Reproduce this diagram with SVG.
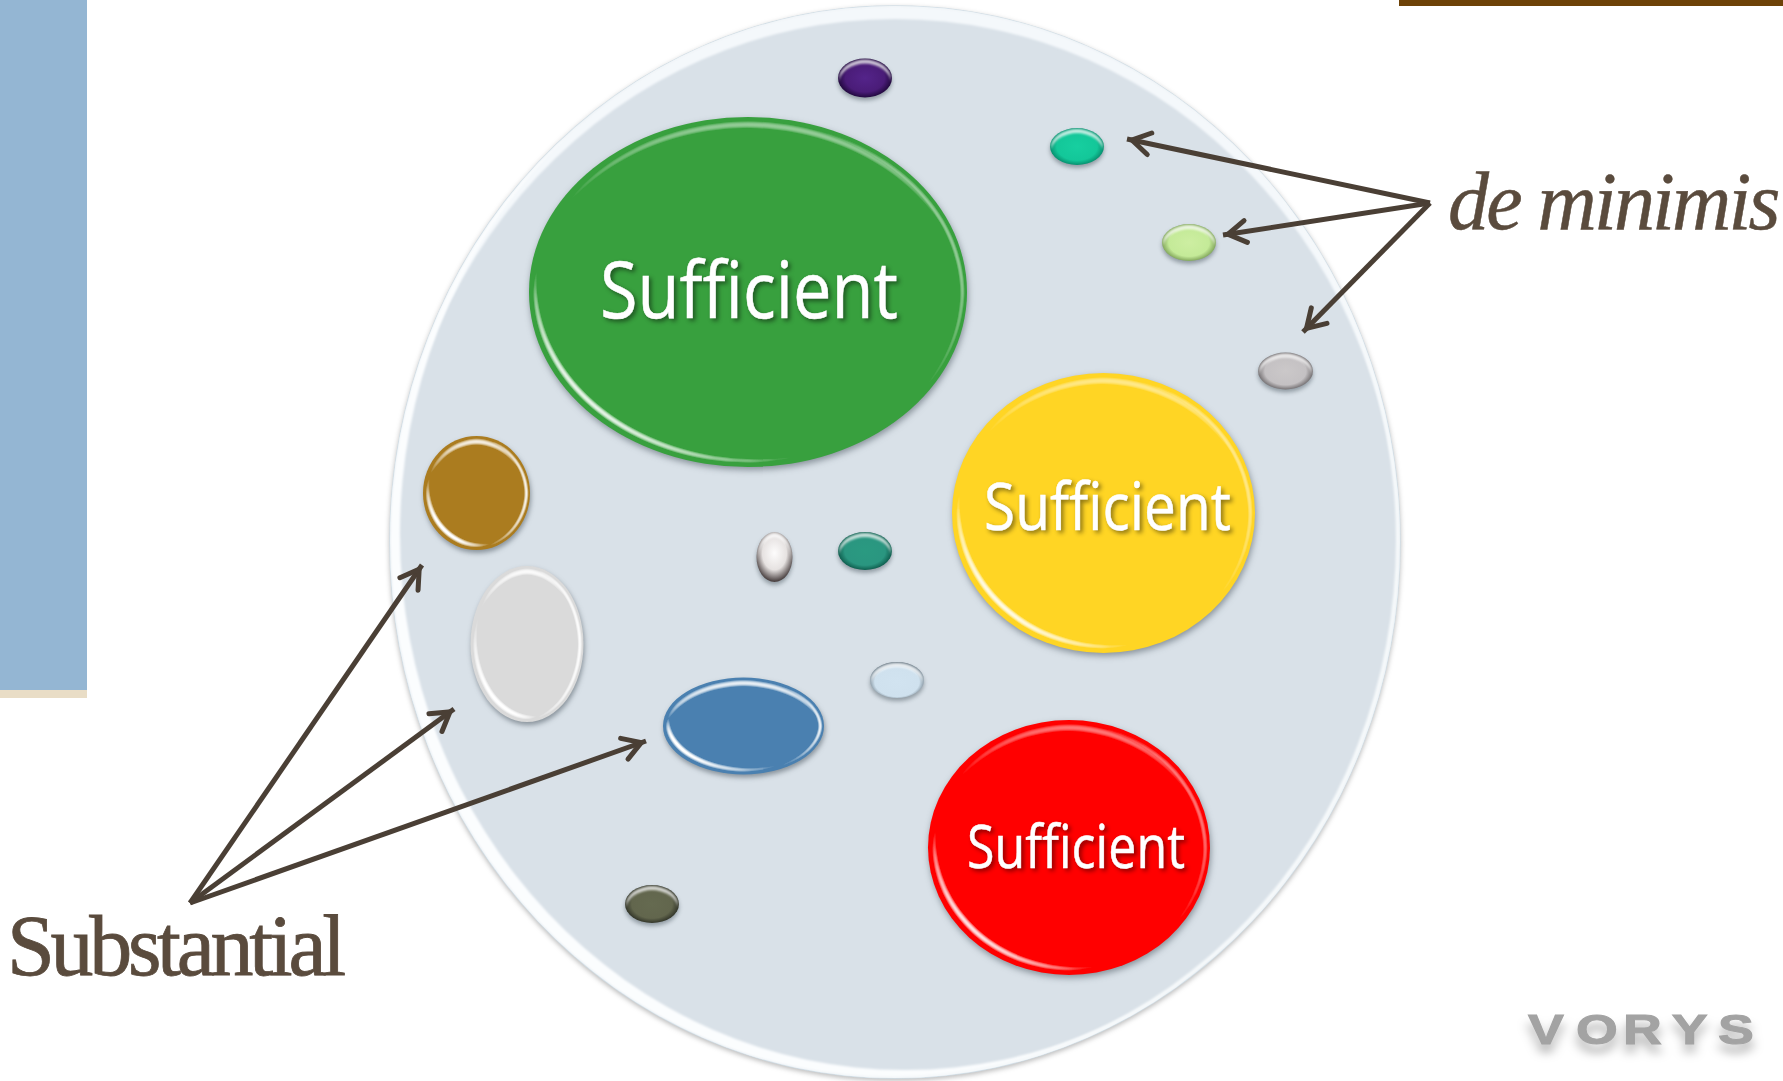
<svg xmlns="http://www.w3.org/2000/svg" width="1783" height="1081" viewBox="0 0 1783 1081">
<style>
.suf{font-family:"Open Sans","Noto Sans",sans-serif;fill:#fff;stroke:#fff;stroke-width:.5;filter:url(#txt)}
.cap{font-family:"Liberation Serif",serif;fill:#5a4b3d;stroke:#5a4b3d}
.big{filter:url(#bevelL)}
.mid{filter:url(#bevelM)}
.small{filter:url(#bevelS)}
.arrow{fill:none;stroke:#4a3f35;stroke-width:5;marker-end:url(#head)}
</style>
<defs>
<marker id="head" markerUnits="userSpaceOnUse" markerWidth="44" markerHeight="44" refX="29" refY="22" orient="auto" overflow="visible">
<path d="M6,11 L24,22 L6,33" fill="none" stroke="#4a3f35" stroke-width="5" stroke-linecap="round" stroke-linejoin="miter"/>
</marker>
<filter id="txt" x="-10%" y="-20%" width="120%" height="150%" color-interpolation-filters="sRGB">
<feDropShadow dx="2.500" dy="2.500" stdDeviation="2" flood-color="#000" flood-opacity=".45"/>
</filter>
<filter id="bevelL" x="-10%" y="-10%" width="120%" height="120%" color-interpolation-filters="sRGB">
<feMorphology in="SourceAlpha" operator="erode" radius="3" result="e"/>
<feOffset in="e" dx="-1" dy="9" result="o1"/>
<feComposite in="e" in2="o1" operator="out"/>
<feGaussianBlur stdDeviation="3"/>
<feColorMatrix values="0 0 0 0 1 0 0 0 0 1 0 0 0 0 1 0 0 0 1.800 -1.050" result="c1"/>
<feOffset in="e" dx="6" dy="-6" result="o2"/>
<feComposite in="e" in2="o2" operator="out"/>
<feGaussianBlur stdDeviation="3"/>
<feColorMatrix values="0 0 0 0 1 0 0 0 0 1 0 0 0 0 1 0 0 0 3.400 -1.900" result="c2"/>
<feOffset in="e" dx="-3" dy="1" result="o3"/>
<feComposite in="e" in2="o3" operator="out"/>
<feGaussianBlur stdDeviation="2"/>
<feColorMatrix values="0 0 0 0 1 0 0 0 0 1 0 0 0 0 1 0 0 0 2 -.6" result="c3"/>
<feMerge result="hl"><feMergeNode in="c1"/><feMergeNode in="c2"/><feMergeNode in="c3"/></feMerge>
<feComposite in="hl" in2="SourceAlpha" operator="in" result="hlc"/>
<feGaussianBlur in="SourceAlpha" stdDeviation="3" result="b"/>
<feOffset in="b" dy="3" dx="1" result="o"/>
<feFlood flood-color="#3a4650" flood-opacity=".5"/>
<feComposite in2="o" operator="in" result="sh"/>
<feMerge><feMergeNode in="sh"/><feMergeNode in="SourceGraphic"/><feMergeNode in="hlc"/></feMerge>
</filter>
<filter id="bevelM" x="-15%" y="-15%" width="130%" height="130%" color-interpolation-filters="sRGB">
<feMorphology in="SourceAlpha" operator="erode" radius="2" result="e"/>
<feOffset in="e" dy="7" result="o1"/>
<feComposite in="e" in2="o1" operator="out"/>
<feGaussianBlur stdDeviation="2.300"/>
<feColorMatrix values="0 0 0 0 1 0 0 0 0 1 0 0 0 0 1 0 0 0 2.200 -1.100" result="c1"/>
<feOffset in="e" dx="5" dy="-5" result="o2"/>
<feComposite in="e" in2="o2" operator="out"/>
<feGaussianBlur stdDeviation="2.500"/>
<feColorMatrix values="0 0 0 0 1 0 0 0 0 1 0 0 0 0 1 0 0 0 3.400 -1.800" result="c2"/>
<feOffset in="e" dx="-3" dy="0" result="o3"/>
<feComposite in="e" in2="o3" operator="out"/>
<feGaussianBlur stdDeviation="1.600"/>
<feColorMatrix values="0 0 0 0 1 0 0 0 0 1 0 0 0 0 1 0 0 0 2.200 -.6" result="c3"/>
<feMerge result="hl"><feMergeNode in="c1"/><feMergeNode in="c2"/><feMergeNode in="c3"/></feMerge>
<feComposite in="hl" in2="SourceAlpha" operator="in" result="hlc"/>
<feGaussianBlur in="SourceAlpha" stdDeviation="2.500" result="b"/>
<feOffset in="b" dy="3" dx="1" result="o"/>
<feFlood flood-color="#3a4650" flood-opacity=".5"/>
<feComposite in2="o" operator="in" result="sh"/>
<feMerge><feMergeNode in="sh"/><feMergeNode in="SourceGraphic"/><feMergeNode in="hlc"/></feMerge>
</filter>
<filter id="bevelS" x="-30%" y="-30%" width="160%" height="170%" color-interpolation-filters="sRGB">
<feMorphology in="SourceAlpha" operator="erode" radius="1" result="e"/>
<feOffset in="e" dy="4" result="o1"/>
<feComposite in="e" in2="o1" operator="out"/>
<feGaussianBlur stdDeviation="1"/>
<feColorMatrix values="0 0 0 0 1 0 0 0 0 1 0 0 0 0 1 0 0 0 .75 0" result="c1"/>
<feComposite in="c1" in2="SourceAlpha" operator="in" result="hlc"/>
<feGaussianBlur in="SourceAlpha" stdDeviation="2.200" result="b"/>
<feOffset in="b" dy="3" result="o"/>
<feFlood flood-color="#3a4650" flood-opacity=".45"/>
<feComposite in2="o" operator="in" result="sh"/>
<feMerge><feMergeNode in="sh"/><feMergeNode in="SourceGraphic"/><feMergeNode in="hlc"/></feMerge>
</filter>
<filter id="plateSh" x="-5%" y="-5%" width="110%" height="110%" color-interpolation-filters="sRGB">
<feDropShadow dx="0" dy="2" stdDeviation="2.500" flood-color="#555" flood-opacity=".4"/>
</filter>
<filter id="soft" x="-5%" y="-5%" width="110%" height="110%"><feGaussianBlur stdDeviation="1.200"/></filter>
<filter id="logo" x="-10%" y="-30%" width="120%" height="190%" color-interpolation-filters="sRGB">
<feDropShadow dx="0" dy="9" stdDeviation="4.500" flood-color="#000" flood-opacity=".28"/>
</filter>
<clipPath id="plateClip"><ellipse cx="895" cy="542" rx="505" ry="536"/></clipPath>
<radialGradient id="gPurple"><stop offset="0" stop-color="#54248a"/><stop offset=".72" stop-color="#4a1c78"/><stop offset="1" stop-color="#22093f"/></radialGradient>
<radialGradient id="gTeal1"><stop offset="0" stop-color="#17cfa0"/><stop offset=".75" stop-color="#13c799"/><stop offset="1" stop-color="#07906f"/></radialGradient>
<radialGradient id="gLime"><stop offset="0" stop-color="#cdeea2"/><stop offset=".75" stop-color="#c4ea98"/><stop offset="1" stop-color="#83a85c"/></radialGradient>
<radialGradient id="gGray"><stop offset="0" stop-color="#cbc8c9"/><stop offset=".75" stop-color="#c4c1c3"/><stop offset="1" stop-color="#767274"/></radialGradient>
<radialGradient id="gPearl" cx=".5" cy=".42" r=".56"><stop offset="0" stop-color="#fdfcfc"/><stop offset=".6" stop-color="#e6e2e1"/><stop offset="1" stop-color="#4e4545"/></radialGradient>
<radialGradient id="gTeal2"><stop offset="0" stop-color="#2a9a81"/><stop offset=".75" stop-color="#2a9680"/><stop offset="1" stop-color="#0f5f4f"/></radialGradient>
<radialGradient id="gIce" cx=".5" cy=".55" r=".55"><stop offset="0" stop-color="#d1e3f0"/><stop offset=".75" stop-color="#cfe1ee"/><stop offset="1" stop-color="#65747f"/></radialGradient>
<radialGradient id="gOlive"><stop offset="0" stop-color="#656a50"/><stop offset=".75" stop-color="#62664d"/><stop offset="1" stop-color="#33362a"/></radialGradient>
</defs>

<rect width="1783" height="1081" fill="#fff"/>
<rect x="0" y="0" width="87" height="690" fill="#94b6d3"/>
<rect x="0" y="690" width="87" height="8" fill="#e9ddc6"/>
<rect x="1399" y="0" width="384" height="6" fill="#6d4207"/>

<g id="plate">
<ellipse cx="895" cy="542" rx="505" ry="536" fill="#d9e1e8" stroke="#d3dfe7" stroke-width="1.500" filter="url(#plateSh)"/>
<g clip-path="url(#plateClip)">
<path filter="url(#soft)" fill="#f4f8fb" fill-rule="evenodd" d="M390,542a505,536 0 1,0 1010,0a505,536 0 1,0 -1010,0Z M390,555a505,536 0 1,0 1010,0a505,536 0 1,0 -1010,0Z"/>
<path filter="url(#soft)" fill="#fbfdfe" fill-rule="evenodd" d="M390,542a505,536 0 1,0 1010,0a505,536 0 1,0 -1010,0Z M400,534a505,536 0 1,0 1010,0a505,536 0 1,0 -1010,0Z"/>
<path filter="url(#soft)" fill="#f6f9fb" fill-rule="evenodd" d="M390,542a505,536 0 1,0 1010,0a505,536 0 1,0 -1010,0Z M386,540a505,536 0 1,0 1010,0a505,536 0 1,0 -1010,0Z"/>
</g>
</g>

<g id="node-green"><ellipse class="big" cx="748" cy="292" rx="219" ry="175" fill="#38a03e"/><text class="suf" x="600" y="318" font-size="78" textLength="298" lengthAdjust="spacingAndGlyphs">Sufficient</text></g>
<g id="node-yellow"><ellipse class="big" cx="1103.500" cy="513" rx="151.500" ry="140" fill="#ffd524"/><text class="suf" x="984" y="530" font-size="66" textLength="247" lengthAdjust="spacingAndGlyphs">Sufficient</text></g>
<g id="node-red"><ellipse class="big" cx="1069" cy="847.500" rx="141" ry="127.500" fill="#ff0000"/><text class="suf" x="967" y="868" font-size="60" textLength="218" lengthAdjust="spacingAndGlyphs">Sufficient</text></g>
<g id="node-bronze"><ellipse class="mid" cx="476.500" cy="493" rx="53.500" ry="57" fill="#ab7c1f"/></g>
<g id="node-silver"><ellipse class="mid" cx="527" cy="644" rx="56.500" ry="78" fill="#dadada"/></g>
<g id="node-blue"><ellipse class="mid" cx="743.500" cy="726" rx="80.500" ry="48.500" fill="#4a80b0"/></g>
<g id="node-purple"><ellipse class="small" cx="865" cy="78" rx="27" ry="19.500" fill="url(#gPurple)"/></g>
<g id="node-teal-a"><ellipse class="small" cx="1077" cy="146.500" rx="27" ry="18.500" fill="url(#gTeal1)"/></g>
<g id="node-lime"><ellipse class="small" cx="1189" cy="242.500" rx="27" ry="18.500" fill="url(#gLime)"/></g>
<g id="node-gray"><ellipse class="small" cx="1285.500" cy="371" rx="27.500" ry="18.500" fill="url(#gGray)"/></g>
<g id="node-pearl"><ellipse class="small" cx="774.500" cy="557" rx="18" ry="25" fill="url(#gPearl)"/></g>
<g id="node-teal-b"><ellipse class="small" cx="865" cy="551" rx="27" ry="19" fill="url(#gTeal2)"/></g>
<g id="node-ice"><ellipse class="small" cx="897" cy="680" rx="27" ry="18" fill="url(#gIce)"/></g>
<g id="node-olive"><ellipse class="small" cx="652" cy="904" rx="27" ry="19" fill="url(#gOlive)"/></g>

<g id="connectors">
<line class="arrow" x1="1430" y1="203" x2="1127" y2="139"/>
<line class="arrow" x1="1430" y1="203" x2="1223" y2="235"/>
<line class="arrow" x1="1430" y1="203" x2="1303" y2="332"/>
<line class="arrow" x1="190" y1="903" x2="422" y2="565"/>
<line class="arrow" x1="190" y1="903" x2="454" y2="709"/>
<line class="arrow" x1="190" y1="903" x2="646" y2="741"/>
</g>

<text id="label-de-minimis" class="cap" x="1448" y="229" font-size="82" font-style="italic" letter-spacing="-2.800" stroke-width=".5">de minimis</text>
<text id="label-substantial" class="cap" x="7" y="975" font-size="86" letter-spacing="-4.300" stroke-width=".8">Substantial</text>
<text id="logo-vorys" transform="translate(1528,1044) scale(1.25,1)" x="0 38.400 76 115 152" y="0" font-family="'Liberation Sans',sans-serif" font-weight="700" font-size="43" fill="#a3a3a3" stroke="#a3a3a3" filter="url(#logo)">VORYS</text>
</svg>
